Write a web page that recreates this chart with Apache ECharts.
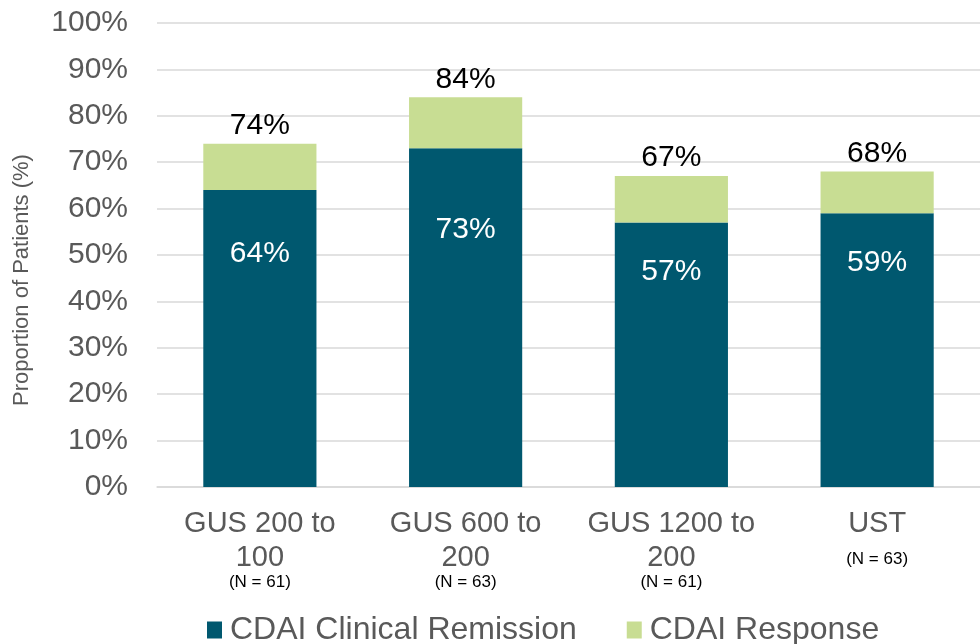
<!DOCTYPE html>
<html>
<head>
<meta charset="utf-8">
<script src="https://cdn.jsdelivr.net/npm/echarts@6/dist/echarts.min.js"></script>
<style>
  html, body { margin: 0; padding: 0; background: #fff; }
  #chart { width: 980px; height: 644px; }
</style>
</head>
<body>
<div id="chart"></div>
<script>
// Treatment arms and their group sizes
const categories = ['GUS 200 to\n100', 'GUS 600 to\n200', 'GUS 1200 to\n200', 'UST'];
const groupN = ['(N = 61)', '(N = 63)', '(N = 61)', '(N = 63)'];

// Percent of patients per outcome
const remission = [64, 73, 57, 59];
const responseTotal = [74, 84, 67, 68];
const responseExtra = responseTotal.map((t, i) => t - remission[i]);

const yTicks = [0, 10, 20, 30, 40, 50, 60, 70, 80, 90, 100];

// How far each in-bar label sits below the top of its bar
const remissionLabelInset = [49, 66, 34, 34];

const TEAL = '#00586f';
const GREEN = '#c8dd93';
const GREY = '#595959';
const SANS = '"Liberation Sans", Arial, sans-serif';

const chart = echarts.init(document.getElementById('chart'));

chart.setOption({
  animation: false,
  textStyle: { fontFamily: SANS },
  grid: { left: 157, right: 0, top: 23, bottom: 157, containLabel: false },
  legend: {
    left: 207,
    top: 614,
    padding: 0,
    itemWidth: 15,
    itemHeight: 17,
    itemGap: 50,
    icon: 'rect',
    textStyle: { fontFamily: SANS, fontSize: 32, color: GREY, padding: [0, 0, 0, 3] },
    data: ['CDAI Clinical Remission', 'CDAI Response']
  },
  xAxis: {
    type: 'category',
    data: categories,
    axisLine: { show: true, lineStyle: { color: '#d9d9d9', width: 1.5 } },
    axisTick: { show: false },
    axisLabel: {
      margin: 20,
      interval: 0,
      formatter: (v, i) => {
        const lines = v.split('\n').map(l => '{a|' + l + '}').join('\n');
        const nStyle = v.indexOf('\n') >= 0 ? 'n' : 'nb';
        return lines + '\n{' + nStyle + '|' + groupN[i] + '}';
      },
      rich: {
        a: { fontFamily: SANS, fontSize: 29, color: GREY, lineHeight: 34 },
        n: { fontFamily: SANS, fontSize: 17, color: '#000', lineHeight: 14 },
        nb: { fontFamily: SANS, fontSize: 17, color: '#000', lineHeight: 36 }
      }
    }
  },
  yAxis: {
    type: 'value',
    min: yTicks[0],
    max: yTicks[yTicks.length - 1],
    interval: 10,
    name: 'Proportion of Patients (%)',
    nameLocation: 'middle',
    nameGap: 124,
    nameTextStyle: { fontSize: 22, color: GREY, fontFamily: SANS, padding: [0, 50, 0, 0] },
    axisLine: { show: false },
    axisTick: { show: false },
    axisLabel: {
      margin: 29,
      fontSize: 30,
      color: GREY,
      formatter: v => v + '%'
    },
    splitLine: { lineStyle: { color: '#d9d9d9', width: 1.5 } }
  },
  series: [
    {
      name: 'CDAI Clinical Remission',
      type: 'bar',
      stack: 'total',
      barWidth: '55%',
      itemStyle: { color: TEAL },
      data: remission.map((v, i) => ({
        value: v,
        label: {
          show: true,
          position: 'insideTop',
          distance: remissionLabelInset[i],
          fontSize: 30,
          color: '#fff',
          formatter: p => p.value + '%'
        }
      }))
    },
    {
      name: 'CDAI Response',
      type: 'bar',
      stack: 'total',
      barWidth: '55%',
      itemStyle: { color: GREEN },
      label: {
        show: true,
        position: 'top',
        distance: 3,
        fontSize: 30,
        color: '#000',
        formatter: p => responseTotal[p.dataIndex] + '%'
      },
      data: responseExtra
    }
  ]
});
</script>
</body>
</html>
